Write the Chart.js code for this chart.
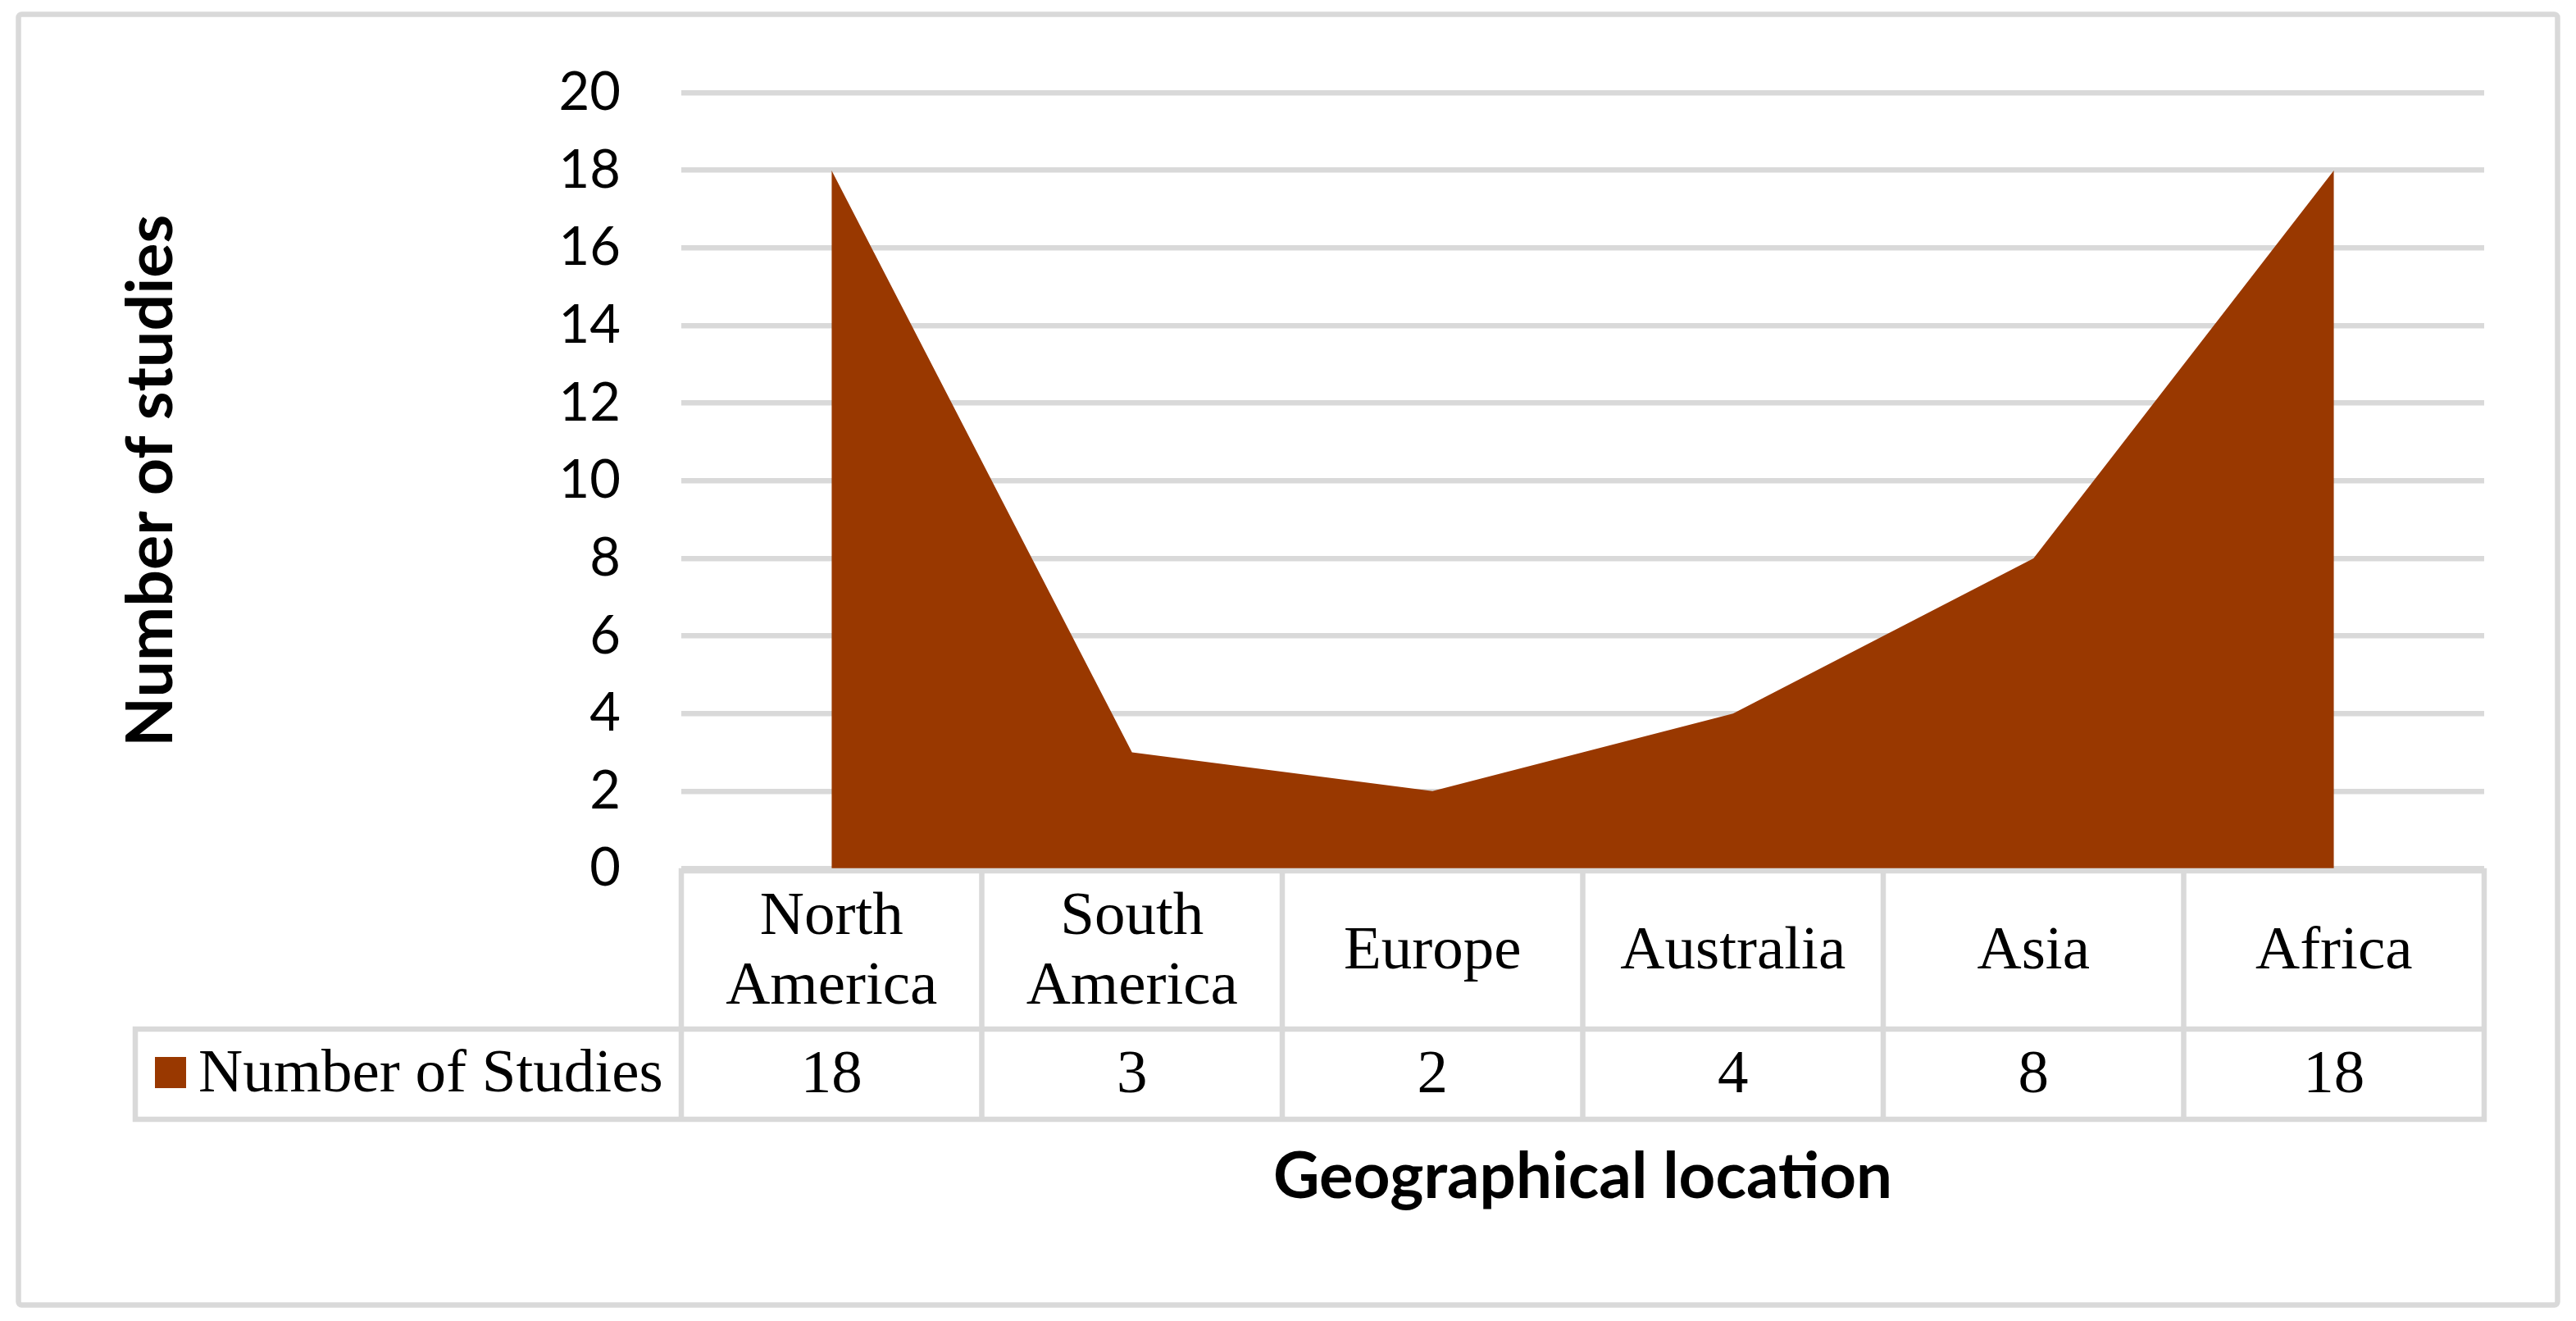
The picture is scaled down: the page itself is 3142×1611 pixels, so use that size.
<!DOCTYPE html>
<html lang="en">

<head>
    <meta charset="UTF-8">
    <title>Number of studies by geographical location</title>
    <script src="https://cdn.jsdelivr.net/npm/chart.js"></script>
    <style>
        html,
        body {
            margin: 0;
            padding: 0;
            background: #ffffff;
        }

        .chart-container {
            position: relative;
            width: 3142px;
            height: 1611px;
        }
    </style>
</head>

<body>
    <div class="chart-container">
        <canvas id="studiesChart"></canvas>
    </div>

    <script>
        // Data
        const locations = ['North America', 'South America', 'Europe', 'Australia', 'Asia', 'Africa'];
        const studyCounts = [18, 3, 2, 4, 8, 18];
        const seriesName = 'Number of Studies';
        const yTicks = [0, 2, 4, 6, 8, 10, 12, 14, 16, 18, 20];

        const AREA_COLOR = '#993800';
        const LINE_COLOR = '#d9d9d9';
        const LINE_W = 6.5;
        const SERIF = '"Liberation Serif", "Times New Roman", serif';
        const SANS = 'Lato, "Open Sans", sans-serif';

        // white background + light grey outer frame
        const frame = {
            id: 'frame',
            beforeDraw(chart) {
                const ctx = chart.ctx;
                ctx.save();
                ctx.fillStyle = '#ffffff';
                ctx.fillRect(0, 0, chart.width, chart.height);
                ctx.strokeStyle = LINE_COLOR;
                ctx.lineWidth = LINE_W;
                ctx.beginPath();
                ctx.roundRect(22.5, 17.5, 3097, 1574, 4);
                ctx.stroke();
                ctx.restore();
            }
        };

        function wrapWords(ctx, text, maxW) {
            const words = text.split(' ');
            const lines = [];
            let cur = '';
            words.forEach(w => {
                const test = cur ? cur + ' ' + w : w;
                if (cur && ctx.measureText(test).width > maxW) {
                    lines.push(cur);
                    cur = w;
                } else {
                    cur = test;
                }
            });
            lines.push(cur);
            return lines;
        }

        // Excel style data table under the plot
        const dataTable = {
            id: 'dataTable',
            afterDraw(chart) {
                const { ctx, chartArea } = chart;
                const xScale = chart.scales.x;
                const colW = chartArea.width / locations.length;
                const top = chartArea.bottom + 2.5;
                const mid = top + 193;
                const bottom = mid + 110;
                const legendLeft = 165;

                ctx.save();
                ctx.strokeStyle = LINE_COLOR;
                ctx.lineWidth = LINE_W;
                ctx.lineCap = 'square';
                ctx.beginPath();
                // horizontal lines
                ctx.moveTo(chartArea.left, top);
                ctx.lineTo(chartArea.right, top);
                ctx.moveTo(legendLeft, mid);
                ctx.lineTo(chartArea.right, mid);
                ctx.moveTo(legendLeft, bottom);
                ctx.lineTo(chartArea.right, bottom);
                // vertical lines
                ctx.moveTo(legendLeft, mid);
                ctx.lineTo(legendLeft, bottom);
                for (let i = 0; i <= locations.length; i++) {
                    const x = chartArea.left + i * colW;
                    ctx.moveTo(x, top);
                    ctx.lineTo(x, bottom);
                }
                ctx.stroke();

                ctx.fillStyle = '#000000';
                ctx.font = '75px ' + SERIF;
                ctx.textAlign = 'center';
                ctx.textBaseline = 'middle';
                const headMid = (top + mid) / 2;
                const rowMid = (mid + bottom) / 2;
                const lineH = 85;
                locations.forEach((name, i) => {
                    const cx = xScale.getPixelForValue(i);
                    const lines = wrapWords(ctx, name, colW - 30);
                    lines.forEach((ln, j) => {
                        const y = headMid + 3 + (j - (lines.length - 1) / 2) * lineH;
                        ctx.fillText(ln, cx, y);
                    });
                    ctx.fillText(String(studyCounts[i]), cx, rowMid + 2);
                });

                // legend key
                ctx.fillStyle = AREA_COLOR;
                ctx.fillRect(189, rowMid - 21, 38, 38);
                ctx.fillStyle = '#000000';
                ctx.textAlign = 'left';
                ctx.fillText(seriesName, 242, rowMid + 1);
                ctx.restore();
            }
        };

        const ctx = document.getElementById('studiesChart').getContext('2d');
        const chart = new Chart(ctx, {
            type: 'line',
            data: {
                labels: locations,
                datasets: [{
                    label: seriesName,
                    data: studyCounts,
                    backgroundColor: AREA_COLOR,
                    borderColor: AREA_COLOR,
                    borderWidth: 0,
                    pointRadius: 0,
                    tension: 0,
                    fill: 'origin'
                }]
            },
            options: {
                responsive: true,
                maintainAspectRatio: false,
                animation: false,
                layout: {
                    padding: { left: 0, right: 112, top: 109.5, bottom: 0 }
                },
                scales: {
                    x: {
                        offset: true,
                        grid: { display: false },
                        border: { display: false },
                        ticks: { display: false },
                        title: {
                            display: true,
                            text: 'Geographical location',
                            color: '#000000',
                            font: { family: SANS, size: 78, weight: 'bold' },
                            padding: { top: 0, bottom: 128 }
                        },
                        afterFit: s => { s.height = 551.5; }
                    },
                    y: {
                        min: yTicks[0],
                        max: yTicks[yTicks.length - 1],
                        afterBuildTicks: s => { s.ticks = yTicks.map(v => ({ value: v })); },
                        grid: { color: LINE_COLOR, lineWidth: LINE_W, drawTicks: false },
                        border: { display: false },
                        ticks: {
                            color: '#000000',
                            font: { family: SANS, size: 65 },
                            padding: 74
                        },
                        title: {
                            display: true,
                            text: 'Number of studies',
                            color: '#000000',
                            font: { family: SANS, size: 79, weight: 'bold' },
                            padding: { top: 137, bottom: 0 }
                        },
                        afterFit: s => { s.width = 831; }
                    }
                },
                plugins: {
                    legend: { display: false },
                    tooltip: { enabled: false }
                }
            },
            plugins: [frame, dataTable]
        });
    </script>
</body>

</html>
